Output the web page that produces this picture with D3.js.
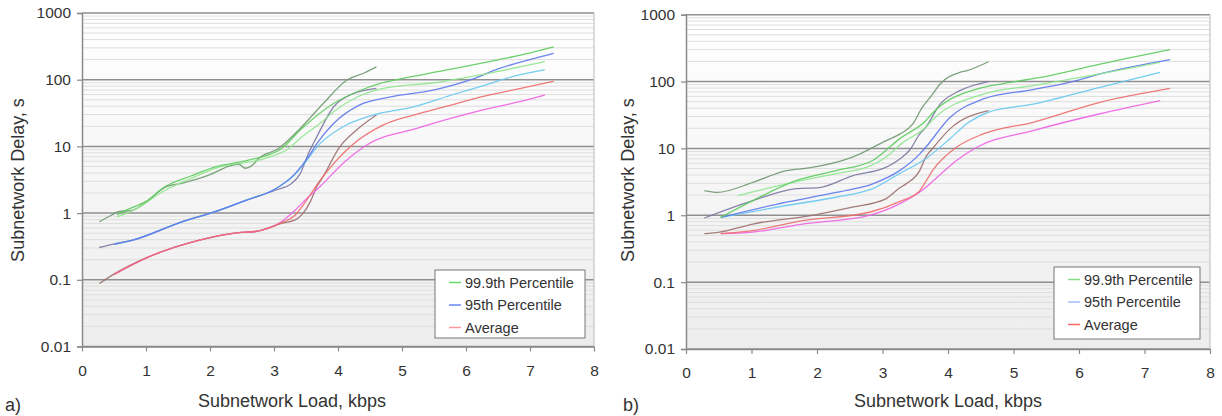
<!DOCTYPE html>
<html><head><meta charset="utf-8">
<script src="https://cdn.jsdelivr.net/npm/d3@7"></script>
<style>
html,body{margin:0;padding:0;background:#fff;}
svg{display:block;font-family:"Liberation Sans",Arial,sans-serif;}
</style></head>
<body>
<svg id="chart" width="1222" height="416"></svg>
<script>
// ---------- data ----------
const xTicks = [0,1,2,3,4,5,6,7,8];
const yTicks = [0.01,0.1,1,10,100,1000];
const legendNames = ["99.9th Percentile","95th Percentile","Average"];
const xTitle = "Subnetwork Load, kbps";
const yTitle = "Subnetwork Delay, s";

// panel a) — [load, delay]
const a_p999_short = [[0.27,0.74],[0.45,0.92],[0.57,1.05],[0.78,1.1],[1.0,1.45],[1.3,2.45],[1.56,2.8],[1.98,3.7],[2.34,5.2],[2.45,5.4],[2.55,4.7],[2.65,5.1],[2.76,6.6],[3.07,9.3],[3.41,18.6],[3.77,44],[4.14,99],[4.4,125],[4.6,156]];
const a_p999_long  = [[0.55,0.95],[0.68,1.1],[1.0,1.5],[1.3,2.5],[1.7,3.6],[2.08,4.95],[2.6,6.2],[3.12,9.3],[3.41,17.6],[3.93,44],[4.3,66],[4.66,88],[4.92,100],[5.7,140],[6.48,197],[6.9,240],[7.37,311]];
const a_p999_mid   = [[0.55,0.88],[0.8,1.1],[1.3,2.2],[1.7,3.3],[2.08,4.7],[2.86,6.6],[3.23,9.3],[3.41,13.2],[3.75,23.4],[3.93,33],[4.3,55],[4.71,74],[5.5,90],[6.48,132],[7.23,186]];
const a_p95_short  = [[0.27,0.305],[0.52,0.35],[0.78,0.39],[1.56,0.74],[2.08,1.05],[2.6,1.6],[3.02,2.2],[3.28,2.8],[3.41,3.9],[3.54,7.9],[3.67,14],[3.93,39],[4.19,59],[4.6,74]];
const a_p95_long   = [[0.5,0.34],[0.78,0.39],[1.56,0.74],[2.08,1.05],[2.6,1.6],[3.02,2.3],[3.33,3.9],[3.54,7],[3.67,11],[3.93,22],[4.34,42],[4.8,55],[5.49,70],[6.1,102],[6.5,145],[7.0,200],[7.37,248]];
const a_p95_mid    = [[0.5,0.34],[0.78,0.39],[1.56,0.74],[2.08,1.05],[2.6,1.6],[3.02,2.3],[3.33,3.8],[3.45,5.2],[3.72,11],[4.08,19.7],[4.55,29.5],[5.18,39],[5.8,60],[6.22,79],[6.74,112],[7.23,140]];
const a_avg_short  = [[0.27,0.088],[0.52,0.125],[1.04,0.22],[1.82,0.39],[2.45,0.51],[2.7,0.525],[3.12,0.7],[3.33,0.79],[3.45,0.98],[3.57,1.5],[3.67,2.5],[3.75,3.3],[4.03,9.9],[4.29,17.6],[4.6,29.5]];
const a_avg_long   = [[0.5,0.12],[1.04,0.22],[1.82,0.39],[2.45,0.51],[2.7,0.53],[3.12,0.72],[3.33,0.93],[3.45,1.3],[3.72,3.1],[4.19,9.9],[4.71,21],[5.18,29.5],[5.7,40],[6.22,55],[6.8,72],[7.37,95]];
const a_avg_mid    = [[0.5,0.12],[1.04,0.22],[1.82,0.39],[2.45,0.51],[2.7,0.53],[3.12,0.75],[3.33,1.1],[3.45,1.45],[3.72,2.5],[4.08,5.6],[4.45,10.5],[5.23,18.6],[5.8,27],[6.3,36],[6.8,46],[7.23,59]];

// panel b)
const b_p999_short = [[0.28,2.34],[0.48,2.2],[1.02,3.1],[1.53,4.65],[1.88,5.1],[2.54,7.4],[3.05,13],[3.27,16.5],[3.46,23],[3.6,40],[3.75,62],[3.88,92],[4.18,137],[4.28,145],[4.62,198]];
const b_p999_long  = [[0.53,0.93],[1.02,1.66],[1.68,3.3],[2.29,4.65],[2.85,6.6],[3.26,13.9],[3.66,26],[3.78,35],[4.54,82],[4.95,97],[5.5,120],[6.32,182],[7.39,300]];
const b_p999_mid   = [[0.79,1.97],[1.53,2.95],[2.29,4.2],[2.75,5.2],[3.05,7.4],[3.3,12],[3.66,20.7],[3.78,27.6],[4.54,65],[5.3,87],[6.32,130],[7.24,194]];
const b_p95_short  = [[0.28,0.91],[1.02,1.66],[1.68,2.5],[2.04,2.6],[2.54,3.9],[3.05,5.2],[3.27,7],[3.41,9.3],[3.57,16.5],[3.66,20.7],[3.88,46],[4.18,73],[4.62,100]];
const b_p95_long   = [[0.53,0.93],[1.53,1.57],[2.29,2.2],[2.85,2.95],[3.26,4.65],[3.57,8.3],[3.66,10.4],[4.03,29],[4.54,55],[5.3,76],[5.9,100],[6.32,130],[7.39,213]];
const b_p95_mid    = [[0.53,0.93],[1.53,1.4],[2.29,1.86],[2.85,2.5],[3.26,4.2],[3.66,7],[4.03,14],[4.3,24],[4.62,35],[5.3,46],[6.32,82],[7.24,137]];
const b_avg_short  = [[0.28,0.53],[0.51,0.56],[1.02,0.74],[1.93,1.0],[2.54,1.32],[3.05,1.76],[3.27,2.6],[3.36,2.95],[3.57,4.7],[3.66,7.4],[3.78,10.4],[4.03,19.6],[4.62,36.7]];
const b_avg_long   = [[0.53,0.53],[1.02,0.59],[1.78,0.83],[2.8,1.11],[3.26,1.6],[3.57,2.34],[3.66,3.2],[3.78,4.9],[4.13,10.4],[4.54,16.5],[5.3,24.6],[6.32,49],[7.39,79]];
const b_avg_mid    = [[0.53,0.53],[1.02,0.56],[1.78,0.74],[2.8,1.0],[3.26,1.48],[3.66,2.6],[3.78,3.3],[4.13,6.6],[4.44,10.4],[5.3,18.5],[6.32,33],[7.24,52]];

// ---------- styles ----------
const lineColors = {
  p999_short:"#6f986f", p999_long:"#5ccc5c", p999_mid:"#8ee68e",
  p95_short:"#7a78a0",  p95_long:"#5c78ec",  p95_mid:"#66c6f0",
  avg_short:"#9c6e6e",  avg_long:"#ee6a6a",  avg_mid:"#ee62e4"
};

const panels = [
  { label:"a)", left:82, right:594, top:13, bottom:346.5,
    xTitleX:292, yTitleX:18, labelX:5,
    legend:{x:435,y:270,w:150,h:68, colors:["#66dd66","#6688ff","#ff9999"]},
    lines:[
      [a_avg_short,"avg_short"],[a_avg_mid,"avg_mid"],[a_avg_long,"avg_long"],
      [a_p95_short,"p95_short"],[a_p95_mid,"p95_mid"],[a_p95_long,"p95_long"],
      [a_p999_short,"p999_short"],[a_p999_mid,"p999_mid"],[a_p999_long,"p999_long"]
    ]},
  { label:"b)", left:686, right:1210, top:14.7, bottom:349,
    xTitleX:948, yTitleX:628, labelX:623,
    legend:{x:1054,y:267,w:146,h:72, colors:["#88dd88","#aabbff","#ff6666"]},
    lines:[
      [b_avg_short,"avg_short"],[b_avg_mid,"avg_mid"],[b_avg_long,"avg_long"],
      [b_p95_short,"p95_short"],[b_p95_mid,"p95_mid"],[b_p95_long,"p95_long"],
      [b_p999_short,"p999_short"],[b_p999_mid,"p999_mid"],[b_p999_long,"p999_long"]
    ]}
];

const svg = d3.select("#chart");
const defs = svg.append("defs");
const grad = defs.append("linearGradient").attr("id","bg").attr("x1",0).attr("y1",0).attr("x2",0).attr("y2",1);
grad.append("stop").attr("offset","0%").attr("stop-color","#ffffff");
grad.append("stop").attr("offset","100%").attr("stop-color","#ededed");

panels.forEach(p => {
  const x = d3.scaleLinear().domain([0,8]).range([p.left,p.right]);
  const y = d3.scaleLog().domain([0.01,1000]).range([p.bottom,p.top]);
  const g = svg.append("g");

  g.append("rect").attr("x",p.left).attr("y",p.top)
    .attr("width",p.right-p.left).attr("height",p.bottom-p.top)
    .attr("fill","url(#bg)");

  // minor grid
  const minor = [];
  for (let d=-2; d<3; d++) for (let m=2; m<10; m++) minor.push(m*Math.pow(10,d));
  g.selectAll(".minor").data(minor).join("line")
    .attr("x1",p.left).attr("x2",p.right)
    .attr("y1",d=>y(d)).attr("y2",d=>y(d))
    .attr("stroke","#dedede").attr("stroke-width",1);
  // major grid
  g.selectAll(".major").data(yTicks).join("line")
    .attr("x1",p.left).attr("x2",p.right)
    .attr("y1",d=>y(d)).attr("y2",d=>y(d))
    .attr("stroke","#8f8f8f").attr("stroke-width",1.5);
  // right border
  g.append("line").attr("x1",p.right).attr("x2",p.right)
    .attr("y1",p.top).attr("y2",p.bottom).attr("stroke","#c4c4c4").attr("stroke-width",1.2);

  // lines
  const line = d3.line().x(d=>x(d[0])).y(d=>y(d[1])).curve(d3.curveMonotoneX);
  p.lines.forEach(([data,key]) => {
    g.append("path").datum(data).attr("d",line)
      .attr("fill","none").attr("stroke",lineColors[key])
      .attr("stroke-width",1.3).attr("stroke-opacity",0.9);
  });

  // axes
  const yAxis = d3.axisLeft(y).tickValues(yTicks).tickSize(5).tickPadding(6)
    .tickFormat(d=>String(d));
  const ya = g.append("g").attr("transform",`translate(${p.left},0)`).call(yAxis);
  const xAxis = d3.axisBottom(x).tickValues(xTicks).tickSize(5).tickPadding(13).tickSizeOuter(0);
  const xa = g.append("g").attr("transform",`translate(0,${p.bottom})`).call(xAxis);
  [ya,xa].forEach(a=>{
    a.select(".domain").attr("stroke","#8a8a8a").attr("stroke-width",1.5);
    a.selectAll(".tick line").attr("stroke","#8a8a8a").attr("stroke-width",1.2);
    a.selectAll("text").attr("fill","#333").style("font-size","15.5px")
      .style("font-family","'Liberation Sans',Arial,sans-serif");
  });

  // titles
  g.append("text").attr("x",p.xTitleX).attr("y",407).attr("text-anchor","middle")
    .attr("fill","#333").style("font-size","18px").text(xTitle);
  g.append("text").attr("transform",`translate(${p.yTitleX + 6},180) rotate(-90)`)
    .attr("text-anchor","middle").attr("fill","#333").style("font-size","18px").text(yTitle);
  g.append("text").attr("x",p.labelX).attr("y",411).attr("fill","#333")
    .style("font-size","18px").text(p.label);

  // legend
  const L = p.legend;
  g.append("rect").attr("x",L.x).attr("y",L.y).attr("width",L.w).attr("height",L.h)
    .attr("fill","#fff").attr("stroke","#777").attr("stroke-width",1);
  legendNames.forEach((n,i)=>{
    const cy = L.y + 12.5 + i*22.5;
    g.append("line").attr("x1",L.x+14).attr("x2",L.x+26).attr("y1",cy).attr("y2",cy)
      .attr("stroke",L.colors[i]).attr("stroke-width",1.5);
    g.append("text").attr("x",L.x+30).attr("y",cy+5).attr("fill","#333")
      .style("font-size","14.5px").text(n);
  });
});
</script>
</body></html>
